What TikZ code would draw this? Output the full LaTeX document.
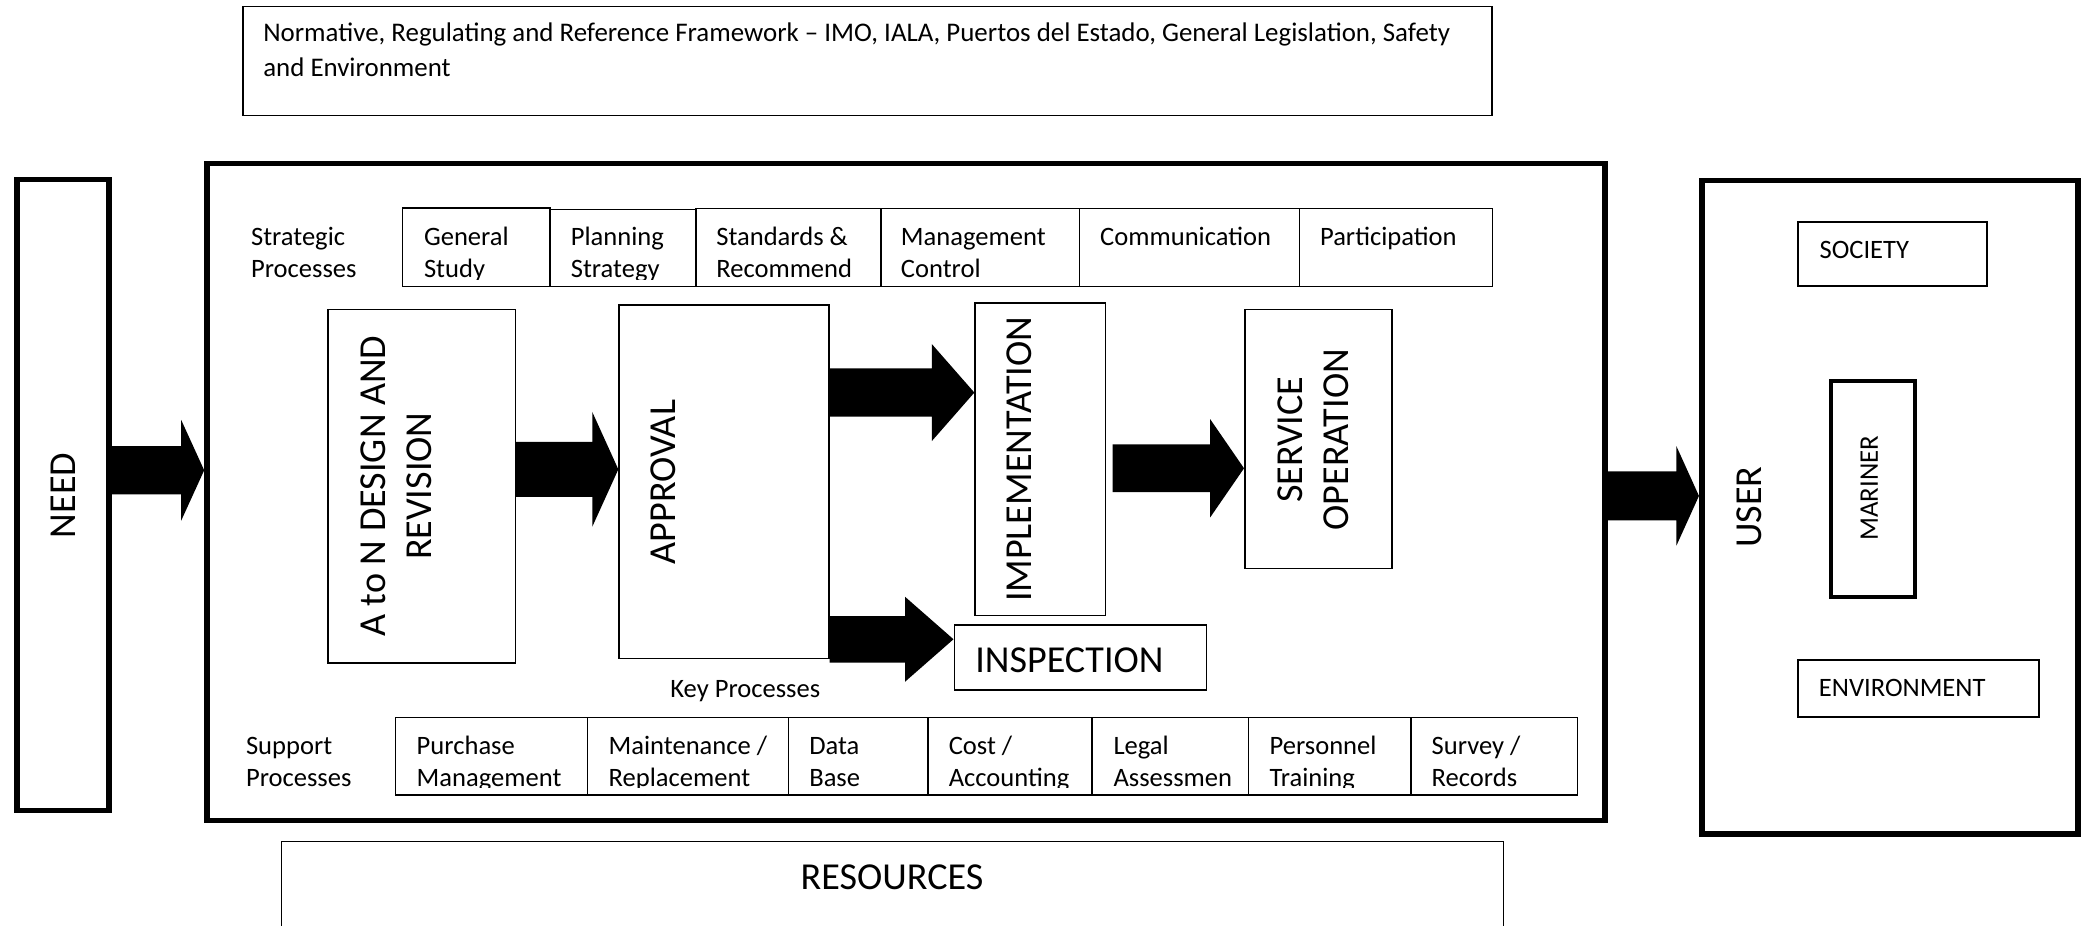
\documentclass[tikz,border=0pt]{standalone}
\usepackage{fontspec}
\setmainfont{Carlito}
\usetikzlibrary{calc}
\newcommand\fA{\fontsize{20}{24.4}\selectfont}
\newcommand\fT{\fontsize{20.25}{26}\selectfont}
\newcommand\fB{\fontsize{28.7}{34.5}\selectfont}
\newcommand\fM{\fontsize{20.2}{24}\selectfont}
\newcommand\bx[6]{\node[#6, minimum width={#4-#2}, minimum height={#5-#3}] (#1) at ({(#2+#4)/2},{(#3+#5)/2}) {};}
\newcommand\celltxt[5]{\begin{scope}\clip (#1.north west) rectangle ([yshift=6pt]#1.south east);
  \node[celltext] (#2) at (#3,#4) {#5};\end{scope}}
\newcommand\blockarr[6]{\fill let \p1=(#1), \p2=(#2), \p3=(0,#3) in
  (\x1,\y3+#4) -- (\x2-#6,\y3+#4) -- (\x2-#6,\y3+#5) -- (\x2,\y3) -- (\x2-#6,\y3-#5) -- (\x2-#6,\y3-#4) -- (\x1,\y3-#4) -- cycle;}
\begin{document}
\begin{tikzpicture}[x=1pt,y=-1pt,
  thinbox/.style={draw, rectangle, line width=1.1pt, inner sep=0},
  thickbox/.style={draw, rectangle, line width=4.2pt, inner sep=0},
  midbox/.style={draw, rectangle, line width=3pt, inner sep=0},
  lightbox/.style={draw, rectangle, line width=1.5pt, inner sep=0},
  celltext/.style={anchor=north west, inner sep=0, align=left, font=\fA},
  bigtext/.style={inner sep=0, font=\fB},
  vert/.style={inner sep=0, font=\fB, rotate=90, align=center},
  plain/.style={inner sep=0, font=\fA}]
\useasboundingbox (0,0) rectangle (1568,697);
% boxes
\bx{frame}{183}{5}{1123}{87}{thinbox}
\bx{need}{13}{135}{82}{610}{thickbox}
\bx{main}{155.8}{123}{1208.2}{617.5}{thickbox}
\bx{user}{1281}{136}{1564}{628}{thickbox}
\bx{society}{1353.5}{167}{1495.5}{215}{lightbox}
\bx{mariner}{1378.5}{287}{1441.2}{449.4}{midbox}
\bx{environment}{1353.5}{496.5}{1534.5}{539.5}{lightbox}
\bx{design}{247}{233}{388}{499}{thinbox}
\bx{approval}{466}{229.5}{624}{495.5}{thinbox}
\bx{impl}{734}{228}{832}{463.4}{thinbox}
\bx{inspection}{718.3}{470.4}{908}{519.4}{thinbox}
\bx{service}{937}{232.8}{1048}{427.8}{thinbox}
\bx{general}{303}{156.5}{414}{215.5}{thinbox}
\bx{planning}{414}{157.5}{524}{215.5}{thinbox}
\bx{standards}{524}{157}{663}{215.5}{thinbox}
\bx{mgmt}{663}{157}{812.7}{215.5}{thinbox}
\bx{comm}{812.7}{157}{978}{215.5}{thinbox}
\bx{partic}{978}{157}{1123.3}{215.5}{thinbox}
\bx{purchase}{297.6}{540}{442.3}{598.5}{thinbox}
\bx{maint}{442.3}{540}{593.5}{598.5}{thinbox}
\bx{database}{593.5}{540}{698.5}{598.5}{thinbox}
\bx{cost}{698.5}{540}{822.1}{598.5}{thinbox}
\bx{legal}{822.1}{540}{939.7}{598.5}{thinbox}
\bx{personnel}{939.7}{540}{1062}{598.5}{thinbox}
\bx{survey}{1062}{540}{1187.6}{598.5}{thinbox}
\bx{resources}{212}{633.5}{1131.7}{705}{thinbox}
% cell texts
\celltxt{general}{generalt}{319}{167.3}{\strut General\\\strut Study}
\celltxt{planning}{planningt}{429.5}{167.3}{\strut Planning\\\strut Strategy}
\celltxt{standards}{standardst}{539}{167.3}{\strut Standards \&\\\strut Recommend}
\celltxt{mgmt}{mgmtt}{678}{167.3}{\strut Management\\\strut Control}
\celltxt{comm}{commt}{828}{167.3}{\strut Communication}
\celltxt{partic}{partict}{993.5}{167.3}{\strut Participation}
\celltxt{purchase}{purchaset}{313.5}{550.3}{\strut Purchase\\\strut Management}
\celltxt{maint}{maintt}{458}{550.3}{\strut Maintenance /\\\strut Replacement}
\celltxt{database}{databaset}{609}{550.3}{\strut Data\\\strut Base}
\celltxt{cost}{costt}{714}{550.3}{\strut Cost /\\\strut Accounting}
\celltxt{legal}{legalt}{838}{550.3}{\strut Legal\\\strut Assessmen}
\celltxt{personnel}{personnelt}{955.5}{550.3}{\strut Personnel\\\strut Training}
\celltxt{survey}{surveyt}{1077.5}{550.3}{\strut Survey /\\\strut Records}
% labels
\node[celltext, font=\fT] (framet) at (198,13.1) {\strut Normative, Regulating and Reference Framework – IMO, IALA, Puertos del Estado, General Legislation, Safety\\\strut and Environment};
\node[celltext] (stratlbl) at (188.8,167.3) {\strut Strategic\\\strut Processes};
\node[celltext] (supplbl) at (185,550.3) {\strut Support\\\strut Processes};
\node[plain, anchor=base] (keylbl) at (561,525.4) {Key Processes};
\node[vert] (needt) at (47.5,373) {NEED};
\node[vert] (designt) at (298.3,366) {A to N DESIGN AND\\REVISION};
\node[vert] (approvalt) at (499,363) {APPROVAL};
\node[vert] (implt) at (767.5,345.8) {IMPLEMENTATION};
\node[vert] (servicet) at (988.5,331) {SERVICE\\OPERATION};
\node[vert] (usert) at (1316.8,381.6) {USER};
\node[vert, font=\fM] (marinert) at (1407,367.6) {MARINER};
\node[bigtext, anchor=west] (inspt) at (734,496.8) {INSPECTION};
\node[bigtext] (rest) at (671.5,660) {RESOURCES};
\node[plain, anchor=west] (societyt) at (1369.5,188.5) {SOCIETY};
\node[plain, anchor=west] (envt) at (1369,518) {ENVIRONMENT};
% block arrows
\blockarr{need.east}{main.west}{354}{18.2pt}{37.9pt}{17.3pt}
\blockarr{design.east}{approval.west}{353.3}{20.7pt}{43.2pt}{19.6pt}
\blockarr{approval.east}{impl.west}{295.5}{18.2pt}{36.5pt}{32pt}
\blockarr{approval.east}{inspection.west}{481.2}{17.5pt}{32pt}{36.5pt}
\blockarr{[xshift=5pt]impl.east}{service.west}{352.5}{18pt}{37pt}{25.5pt}
\blockarr{main.east}{user.west}{373.3}{18.5pt}{37.5pt}{17pt}
\end{tikzpicture}
\end{document}
